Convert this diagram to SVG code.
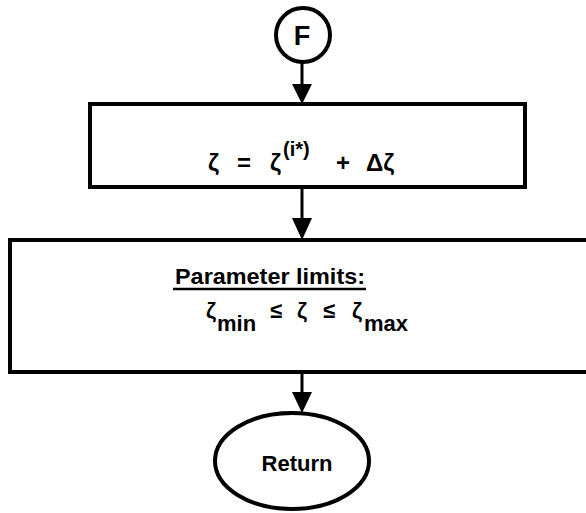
<svg xmlns="http://www.w3.org/2000/svg" width="586" height="513" viewBox="0 0 586 513">
<style>
.box{fill:#fff;stroke:#000;stroke-width:4}
.ln{stroke:#000;stroke-width:3;fill:none}
.head{fill:#000}
.t{font-family:"Liberation Sans","DejaVu Sans",sans-serif;font-weight:bold;fill:#000}
</style>
<rect width="586" height="513" fill="#fff"/>
<g id="connectors">
<line class="ln" x1="302" y1="62" x2="302" y2="88"/>
<polygon class="head" points="292,84 312,84 302,104"/>
<line class="ln" x1="302" y1="187" x2="302" y2="222"/>
<polygon class="head" points="292,218 312,218 302,240"/>
<line class="ln" x1="302" y1="372" x2="302" y2="396"/>
<polygon class="head" points="292,392 312,392 302,413"/>
</g>
<g id="F">
<circle cx="303" cy="35" r="27" class="box"/>
<text class="t" x="302" y="45" font-size="27" text-anchor="middle">F</text>
</g>
<g id="assign">
<rect x="90" y="104" width="435" height="83" class="box"/>
<text class="t" font-size="24"><tspan x="208" y="171">ζ</tspan><tspan x="237" y="171">=</tspan><tspan x="270" y="171">ζ</tspan><tspan x="283" y="156" font-size="20">(i*)</tspan><tspan x="336" y="171">+</tspan><tspan x="366" y="171">Δζ</tspan></text>
</g>
<g id="limits">
<rect x="10" y="240" width="590" height="132" class="box"/>
<text class="t" x="175" y="284" font-size="22" textLength="190" lengthAdjust="spacingAndGlyphs">Parameter limits:</text>
<line x1="173" y1="289" x2="366" y2="289" stroke="#000" stroke-width="2.5"/>
<text class="t" font-size="22"><tspan x="206" y="318">ζ</tspan><tspan x="217" y="331">min</tspan><tspan x="270" y="318">≤</tspan><tspan x="297" y="318">ζ</tspan><tspan x="323" y="318">≤</tspan><tspan x="352" y="318">ζ</tspan><tspan x="364" y="331">max</tspan></text>
</g>
<g id="return">
<ellipse cx="292" cy="461" rx="77" ry="48" class="box"/>
<text class="t" x="297" y="471" font-size="22" text-anchor="middle">Return</text>
</g>
</svg>
